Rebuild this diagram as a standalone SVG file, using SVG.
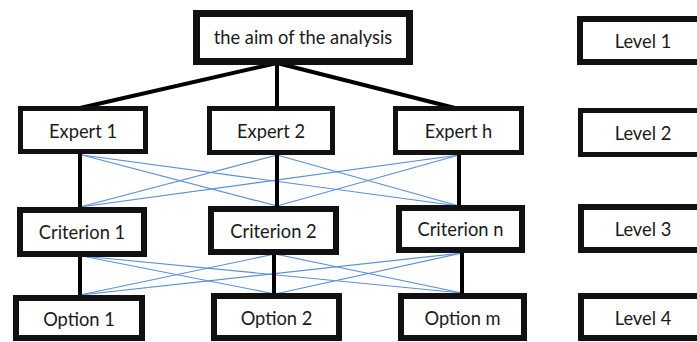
<svg xmlns="http://www.w3.org/2000/svg" width="697" height="342" viewBox="0 0 697 342">
<style>
.box{fill:#fff;stroke:#111;stroke-width:6}
.thin{stroke-width:5}
.lbl{font-family:Lato,"Open Sans","Liberation Sans",sans-serif;font-size:18.3px;fill:#1a1a1a;text-anchor:middle;dominant-baseline:central}
.blk{stroke:#000;stroke-width:4;fill:none}
.blu{stroke:#5B8FD8;stroke-width:1.2;fill:none}
</style>
<rect width="697" height="342" fill="#fff"/>
<g id="connectors">
<g class="blu">
<line x1="82" y1="155" x2="277" y2="206"/>
<line x1="82" y1="155" x2="459" y2="206"/>
<line x1="277" y1="155" x2="80" y2="207"/>
<line x1="277" y1="155" x2="459" y2="206"/>
<line x1="459" y1="155" x2="80" y2="207"/>
<line x1="459" y1="155" x2="277" y2="206"/>
<line x1="82" y1="256" x2="275" y2="294"/>
<line x1="82" y1="256" x2="462" y2="293"/>
<line x1="275" y1="254" x2="80" y2="295"/>
<line x1="275" y1="254" x2="462" y2="293"/>
<line x1="462" y1="253" x2="80" y2="295"/>
<line x1="462" y1="253" x2="275" y2="294"/>
</g>
<g class="blk">
<line x1="277" y1="63" x2="80" y2="108"/>
<line x1="277" y1="63" x2="277" y2="108"/>
<line x1="277" y1="63" x2="455" y2="108"/>
<line x1="80" y1="152" x2="80" y2="209"/>
<line x1="277" y1="153" x2="277" y2="208"/>
<line x1="459" y1="153" x2="459" y2="207"/>
<line x1="80" y1="255" x2="80" y2="297"/>
<line x1="274" y1="253" x2="274" y2="295"/>
<line x1="462" y1="251" x2="462" y2="295"/>
</g>
</g>
<g id="aim"><rect class="box" x="196.5" y="13.5" width="213" height="48" style="stroke-width:7"/><text class="lbl" x="303" y="37">the aim of the analysis</text></g>
<g id="level1"><rect class="box" x="580" y="19" width="126" height="43"/><text class="lbl" x="643" y="41">Level 1</text></g>
<g id="expert1"><rect class="box thin" x="20.5" y="108.5" width="125" height="43"/><text class="lbl" x="83" y="131">Expert 1</text></g>
<g id="expert2"><rect class="box thin" x="209.5" y="108.5" width="123" height="44"/><text class="lbl" x="271" y="131">Expert 2</text></g>
<g id="experth"><rect class="box thin" x="395.5" y="108.5" width="126" height="44"/><text class="lbl" x="458.5" y="131">Expert h</text></g>
<g id="level2"><rect class="box thin" x="580.5" y="110.5" width="126" height="44"/><text class="lbl" x="643" y="133">Level 2</text></g>
<g id="criterion1"><rect class="box" x="20" y="210" width="124" height="44"/><text class="lbl" x="82" y="232">Criterion 1</text></g>
<g id="criterion2"><rect class="box" x="211" y="209" width="125" height="43"/><text class="lbl" x="273.5" y="231">Criterion 2</text></g>
<g id="criterionn"><rect class="box" x="399" y="208" width="123" height="42"/><text class="lbl" x="460.5" y="229">Criterion n</text></g>
<g id="level3"><rect class="box" x="581" y="207" width="126" height="43"/><text class="lbl" x="643" y="229">Level 3</text></g>
<g id="option1"><rect class="box" x="16" y="298" width="126" height="40"/><text class="lbl" x="79" y="319">Option 1</text></g>
<g id="option2"><rect class="box" x="214" y="296" width="125" height="42"/><text class="lbl" x="276.5" y="318">Option 2</text></g>
<g id="optionm"><rect class="box" x="401" y="296" width="123" height="42"/><text class="lbl" x="462.5" y="318">Option m</text></g>
<g id="level4"><rect class="box" x="581" y="296" width="126" height="42"/><text class="lbl" x="643" y="318">Level 4</text></g>
</svg>
